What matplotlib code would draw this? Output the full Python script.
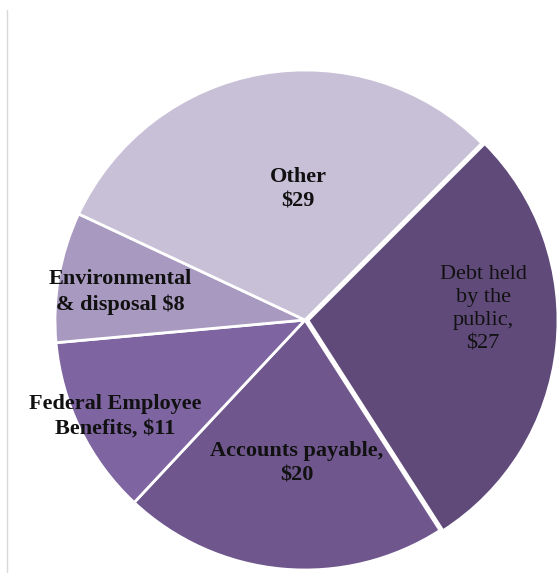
import matplotlib.pyplot as plt
from matplotlib.lines import Line2D

# Data (billions of dollars)
categories = ['Debt held\nby the\npublic,\n$27', 'Accounts payable,\n$20',
              'Federal Employee\nBenefits, $11', 'Environmental\n& disposal $8',
              'Other\n$29']
values = [27, 20, 11, 8, 29]
colors = ['#5f4a7a', '#6f578e', '#7e64a0', '#a899c0', '#c8c0d7']
bold = [False, True, True, True, True]

# label centres in pixel coordinates (x, y from top)
label_pos = [(483, 309), (297, 463), (115, 416), (120, 292), (298, 189)]

W, H = 560, 573
fig = plt.figure(figsize=(W / 100, H / 100), dpi=100)
ax = fig.add_axes([0, 0, 1, 1])
ax.set_xlim(0, W)
ax.set_ylim(0, H)
ax.set_aspect('equal')
ax.axis('off')

ax.pie(values, colors=colors, startangle=45, counterclock=False,
       center=(305, H - 320), radius=250, explode=[3, 0, 0, 0, 0],
       wedgeprops=dict(edgecolor='white', linewidth=2))
ax.set_xlim(0, W)
ax.set_ylim(0, H)

for lab, (x, y), b in zip(categories, label_pos, bold):
    ax.text(x, H - y, lab, ha='center', va='center', fontsize=16,
            family='Liberation Serif', fontweight='bold' if b else 'normal',
            linespacing=1.3, color='#111111')

# thin left border
fig.add_artist(Line2D([7 / W, 7 / W], [0, 1 - 10 / H], color='#d9d9d9',
                      linewidth=1, transform=fig.transFigure))

plt.savefig('out.png', dpi=100)
